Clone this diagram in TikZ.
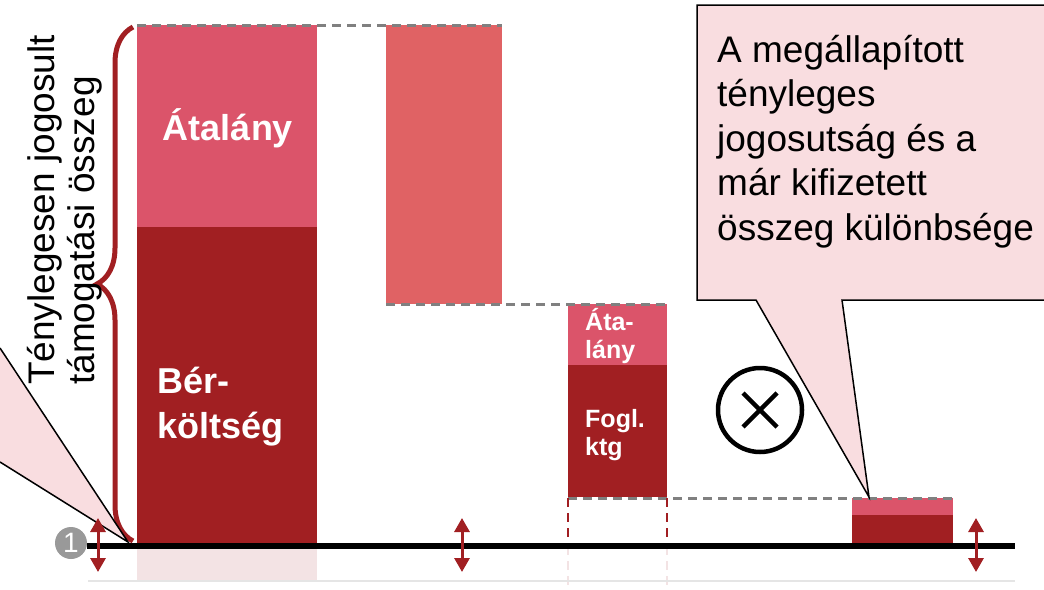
\documentclass[tikz,border=0pt]{standalone}
\usepackage{fontspec}
\setmainfont{Liberation Sans}
\usetikzlibrary{arrows.meta,shapes,decorations.pathreplacing}
\definecolor{atalany}{HTML}{DB546A}
\definecolor{coral}{HTML}{E06264}
\definecolor{darkred}{HTML}{A11F22}
\definecolor{calloutpink}{HTML}{F9DDE0}
\definecolor{shadowpink}{HTML}{F3E3E4}
\tikzstyle{bar label}=[text=white, font=\bfseries, align=left, inner sep=0pt]
\tikzstyle{guide}=[draw=gray, line width=3pt, dash pattern=on 9pt off 6pt]
\tikzstyle{updown}=[draw=darkred, line width=3pt
,{Triangle[width=15pt,length=14pt]}-{Triangle[width=15pt,length=14pt]}
]
\tikzstyle{callout}=[fill=calloutpink, draw=black, line width=1.5pt]
\tikzstyle{big text}=[font=\fontsize{37}{44.5}\selectfont, align=left, inner sep=0pt]

\begin{document}
\begin{tikzpicture}[x=1pt,y=-1pt]
    \clip (0,0) rectangle (1044,589);
    % Bars of the waterfall
    \fill[shadowpink] (137,546) rectangle (317,581);
    \fill[atalany] (137,25) rectangle (317,227);
    \fill[darkred] (137,227) rectangle (317,546);
    \fill[coral] (386,25) rectangle (502,304);
    \fill[atalany] (568,304) rectangle (667,365);
    \fill[darkred] (568,365) rectangle (667,497);
    \fill[atalany] (852,498) rectangle (953,515);
    \fill[darkred] (852,515) rectangle (953,546);

    % Guides between the bars
    \path[guide] (137,25) -- (502,25);
    \path[guide] (386,304) -- (668,304);
    \path[guide] (568,498) -- (953,498);
    \foreach \x in {568,667} {
        \draw[darkred, line width=2pt, dash pattern=on 9pt off 6pt] (\x,498) -- (\x,546);
        \draw[shadowpink, line width=2pt, dash pattern=on 9pt off 6pt] (\x,546) -- (\x,589);
    }

    % Base lines
    \draw[black!10, line width=2.5pt] (88,581) -- (1015,581);
    \draw[black, line width=6pt] (87,546) -- (1015,546);

    % Labels in the bars
    \node[bar label, font=\fontsize{36}{45}\selectfont\bfseries, align=center] (atalany1) at (228,128) {Átalány};
    \node[bar label, font=\fontsize{36}{45}\selectfont\bfseries, anchor=west] (berkoltseg) at (157,407) {Bér-\\költség};
    \node[bar label, font=\fontsize{25}{28}\selectfont\bfseries, anchor=west] (atalany3) at (585,336) {Áta-\\lány};
    \node[bar label, font=\fontsize{25}{28}\selectfont\bfseries, anchor=west] (fogl) at (585,435) {Fogl.\\ktg};

    % Brace and its text
    \draw[darkred, line width=5pt, decorate, decoration={brace, amplitude=36pt}] (133,541) -- (133,27);
    \node[big text, font=\fontsize{37}{40}\selectfont, rotate=90] (osszeg) at (65,210) {Ténylegesen jogosult\\támogatási összeg};

    % Left callout, cut by the edge
    \fill[calloutpink] (0,348) -- (128,542) -- (0,462) -- cycle;
    \draw[black, line width=1.5pt] (0,348) -- (128,542) -- (0,462);

    % Right callout
    \path[callout] (697,5) -- (1050,5) -- (1050,300) -- (842,300) -- (869,497)
        -- (756,300) -- (697,300) -- cycle;
    \node[big text, anchor=north west] (kulonbseg) at (717,35)
        {A megállapított\\tényleges\\jogosutság és a\\már kifizetett\\összeg különbsége};

    % Crossed circle
    \node[circle, draw, line width=4.5pt, minimum size=84pt] (kereszt) at (760,410) {};
    \draw[line width=4.5pt] ([shift={(-17,-17)}]kereszt.center) -- ([shift={(17,17)}]kereszt.center);
    \draw[line width=4.5pt] ([shift={(-17,17)}]kereszt.center) -- ([shift={(17,-17)}]kereszt.center);

    % Step marker
    \node[circle, fill=black!40, text=white, inner sep=0pt, minimum size=32pt
        ,font=\fontsize{28}{28}\selectfont] (lepes) at (71,543) {1};

    % Up-down arrows
    \foreach \x/\name in {98/a, 462/b, 976/c} {
        \coordinate (\name top) at (\x,518);
        \coordinate (\name bot) at (\x,572);
        \path[updown] (\name top) -- (\name bot);
    }
\end{tikzpicture}
\end{document}
